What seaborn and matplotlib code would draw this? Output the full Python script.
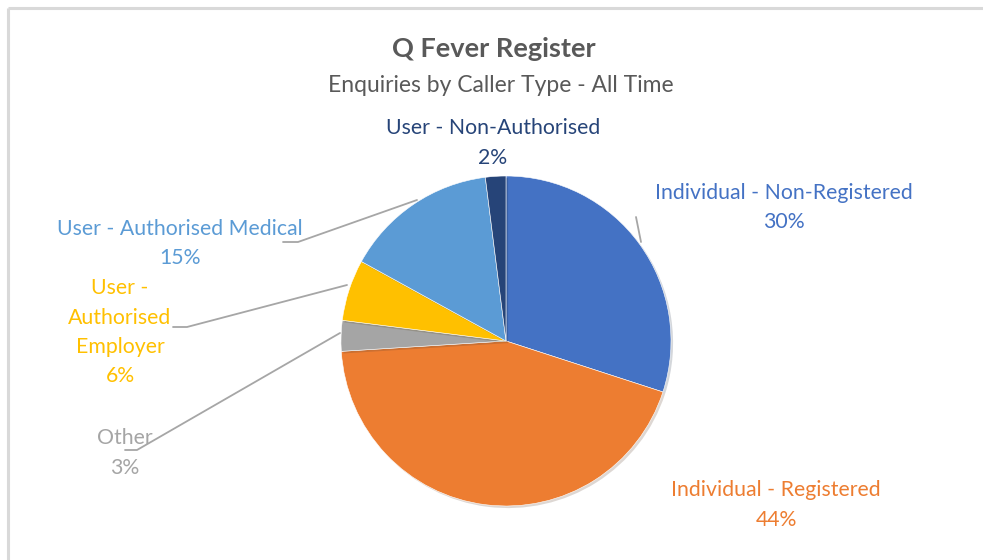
import matplotlib
matplotlib.use("Agg")
import matplotlib.pyplot as plt
import matplotlib.patheffects as pe
import seaborn as sns

# Chart data
categories = ["Individual - Non-Registered", "Individual - Registered", "Other",
              "User - Authorised Employer", "User - Authorised Medical",
              "User - Non-Authorised"]
shares = [30, 44, 3, 6, 15, 2]
label_texts = ["Individual - Non-Registered", "Individual - Registered", "Other",
               "User -\nAuthorised\nEmployer", "User - Authorised Medical",
               "User - Non-Authorised"]
title = "Q Fever Register"
subtitle = "Enquiries by Caller Type - All Time"

# Office-style palette
colors = sns.color_palette(["#4472C4", "#ED7D31", "#A5A5A5",
                            "#FFC000", "#5B9BD5", "#264478"])

sns.set_theme(style="white")
plt.rcParams['font.family'] = ['Lato', 'DejaVu Sans']

W, H = 983, 560
fig = plt.figure(figsize=(W / 100, H / 100), dpi=100)
ax = fig.add_axes([0, 0, 1, 1])


def py(y):
    # pixel row (from top) -> data y
    return H - y


# pie
wedges, _ = ax.pie(shares, colors=colors, startangle=90, counterclock=False,
                   center=(506, py(341)), radius=165,
                   wedgeprops=dict(edgecolor="white", linewidth=0.4))
for w in wedges:
    w.set_path_effects([pe.SimplePatchShadow(offset=(1.5, -1.5), alpha=0.18),
                        pe.Normal()])

# pie() resets the limits, so set the pixel frame afterwards
ax.set_xlim(0, W)
ax.set_ylim(0, H)
ax.set_aspect("equal")
ax.axis("off")

# chart frame (top and left edges only are visible)
ax.plot([8, W], [py(8), py(8)], color="#D9D9D9", lw=2.2, solid_capstyle="butt")
ax.plot([8, 8], [py(8), 0], color="#D9D9D9", lw=2.2, solid_capstyle="butt")

# titles
ax.text(494, py(49), title, ha="center", va="center", fontsize=19.5,
        fontweight="bold", color="#595959")
ax.text(501, py(85), subtitle, ha="center", va="center", fontsize=16.5,
        color="#595959")

# data labels: (x, y of first line) in pixels
label_pos = [(784, 193), (776, 490), (125, 438), (120, 288), (180, 229), (493, 128)]
line_gap = 29.5
for txt, val, col, (lx, ly) in zip(label_texts, shares, colors, label_pos):
    lines = txt.split("\n") + [f"{val}%"]
    for i, s in enumerate(lines):
        ax.text(lx, py(ly + i * line_gap), s, ha="center", va="center",
                fontsize=15.3, color=col)

# leader lines (pixel coordinates)
leaders = [
    [(636, 217), (641, 242)],
    [(283, 242), (298, 242), (417, 200)],
    [(173, 327), (187, 327), (347, 285)],
    [(125, 450), (137, 450), (340, 333)],
]
for pts in leaders:
    xs = [p[0] for p in pts]
    ys = [py(p[1]) for p in pts]
    ax.plot(xs, ys, color="#A6A6A6", lw=1.3)

fig.savefig("out.png", dpi=100)
